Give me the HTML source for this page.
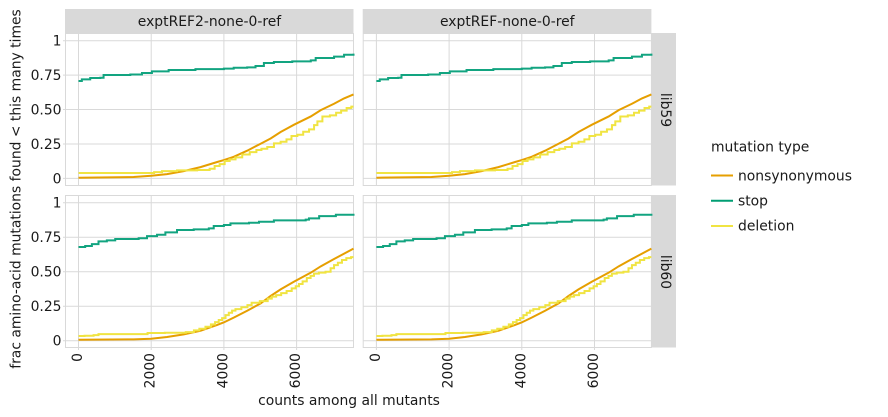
<!DOCTYPE html>
<html>
<head>
<meta charset="utf-8">
<title>Fraction of amino-acid mutations by counts</title>
<style>
html,body{margin:0;padding:0;background:#fff;width:888px;height:417px;overflow:hidden}
svg{display:block}
text{font-family:"DejaVu Sans","Liberation Sans",sans-serif;fill:#1a1a1a}
</style>
</head>
<body>
<svg id="chart" xmlns="http://www.w3.org/2000/svg" width="888" height="417" viewBox="0 0 888 417">
<text transform="translate(20.5,189) rotate(-90)" text-anchor="middle" font-size="13.9">frac amino-acid mutations found &lt; this many times</text>
<text x="349" y="405" text-anchor="middle" font-size="13.9">counts among all mutants</text>
<g>
<text x="711" y="151.5" font-size="13.9">mutation type</text>
<line x1="711" x2="733" y1="175.5" y2="175.5" stroke="#E69F00" stroke-width="2"/>
<text x="738" y="180.5" font-size="13.9">nonsynonymous</text>
<line x1="711" x2="733" y1="200.7" y2="200.7" stroke="#009E73" stroke-width="2"/>
<text x="738" y="205.5" font-size="13.9">stop</text>
<line x1="711" x2="733" y1="226" y2="226" stroke="#F0E442" stroke-width="2"/>
<text x="738" y="230.5" font-size="13.9">deletion</text>
</g>
</svg>
<script>
var columnLabels = ["exptREF2-none-0-ref", "exptREF-none-0-ref"];
var rowLabels = ["lib59", "lib60"];
var xTicks = [0, 2000, 4000, 6000];
var yTicks = [0, 0.25, 0.5, 0.75, 1];
var yTickLabels = ["0", "0.25", "0.50", "0.75", "1"];

var lib59StopX = [0,92,322,600,690,1425,1746,2020,2480,3217,4000,4270,4640,4870,5100,5375,5880,6390,6525,7030,7305,7565];
var lib59StopY = [.707,.719,.729,.731,.751,.755,.765,.777,.787,.794,.797,.804,.806,.816,.838,.845,.850,.857,.874,.884,.898,.906];
var lib59NonsynX = [0,1516,2000,2435,2895,3355,3815,4000,4270,4640,5010,5285,5560,5930,6390,6665,7030,7305,7565];
var lib59NonsynY = [.005,.01,.019,.031,.053,.082,.119,.133,.157,.201,.252,.29,.337,.39,.45,.496,.542,.581,.61];
var lib59DeletionX = [0,2000,2160,2436,2987,3539,3676,3814,3952,4090,4228,4412,4596,4825,4963,5101,5285,5469,5653,5790,5928,6112,6250,6434,6526,6618,6801,7031,7142,7307,7445,7565];
var lib59DeletionY = [.039,.039,.046,.053,.058,.061,.07,.09,.104,.126,.138,.153,.174,.191,.206,.215,.228,.254,.266,.283,.308,.317,.339,.356,.387,.414,.45,.458,.477,.492,.511,.521];

var lib60StopX = [0,184,368,550,780,1010,1655,1885,2160,2390,2710,3170,3585,3720,4000,4180,4690,4965,5375,6250,6340,6620,7080,7565];
var lib60StopY = [.679,.686,.70,.72,.727,.737,.742,.758,.768,.785,.802,.807,.814,.831,.838,.85,.855,.862,.872,.877,.886,.903,.913,.92];
var lib60NonsynX = [0,1516,2000,2435,2895,3355,3815,4000,4270,4640,5010,5285,5560,5930,6390,6665,7030,7565];
var lib60NonsynY = [.007,.01,.014,.027,.046,.072,.114,.133,.167,.217,.27,.324,.372,.428,.493,.539,.592,.667];
var lib60DeletionX = [0,330,500,600,1850,1950,2800,3100,3250,3400,3585,3700,3815,3900,4000,4090,4180,4270,4365,4595,4700,4825,5150,5260,5375,5500,5650,5800,5930,6020,6110,6220,6340,6430,6525,6700,6890,6980,7080,7190,7305,7430,7565];
var lib60DeletionY = [.034,.036,.04,.048,.048,.056,.058,.062,.075,.087,.101,.118,.135,.15,.164,.185,.203,.218,.229,.242,.258,.275,.287,.305,.319,.33,.345,.36,.379,.395,.411,.43,.454,.47,.486,.493,.5,.525,.548,.565,.585,.598,.606];

var svg = document.getElementById('chart');
var NS = 'http://www.w3.org/2000/svg';
var xMax = 7565;
var pxPerCount = 275 / xMax;
var colFrames = [{left: 65.5, right: 353.5, zero: 78.5}, {left: 363.2, right: 651.4, zero: 376.4}];
var rowFrames = [{top: 33.5, bottom: 185.5, zero: 178.4, one: 40.7}, {top: 195.5, bottom: 347.5, zero: 340.7, one: 202.7}];
var rowSeries = [
  [{key: 'nonsynonymous', color: '#E69F00', x: lib59NonsynX, y: lib59NonsynY, mode: 'line'},
   {key: 'stop', color: '#12A480', x: lib59StopX, y: lib59StopY, mode: 'after'},
   {key: 'deletion', color: '#F0E442', x: lib59DeletionX, y: lib59DeletionY, mode: 'mid'}],
  [{key: 'nonsynonymous', color: '#E69F00', x: lib60NonsynX, y: lib60NonsynY, mode: 'line'},
   {key: 'stop', color: '#12A480', x: lib60StopX, y: lib60StopY, mode: 'after'},
   {key: 'deletion', color: '#F0E442', x: lib60DeletionX, y: lib60DeletionY, mode: 'mid'}]
];

function xScale(col, value) { return col.zero + value * pxPerCount; }
function yScale(row, value) { return row.zero - value * (row.zero - row.one); }
function make(tag, attrs, text) {
  var el = document.createElementNS(NS, tag);
  for (var k in attrs) { el.setAttribute(k, attrs[k]); }
  if (text !== undefined) { el.textContent = text; }
  return el;
}
function seriesPath(col, row, s) {
  var d = '';
  for (var i = 0; i < s.x.length; i++) {
    var px = xScale(col, s.x[i]);
    var py = yScale(row, s.y[i]);
    if (i === 0) { d += 'M' + px.toFixed(2) + ' ' + py.toFixed(2); }
    else if (s.mode === 'after') { d += 'H' + px.toFixed(2) + 'V' + py.toFixed(2); }
    else if (s.mode === 'mid') {
      var prev = xScale(col, s.x[i - 1]);
      d += 'H' + ((prev + px) / 2).toFixed(2) + 'V' + py.toFixed(2) + 'H' + px.toFixed(2);
    }
    else { d += 'L' + px.toFixed(2) + ' ' + py.toFixed(2); }
  }
  return d;
}

colFrames.forEach(function (col, c) {
  var strip = make('rect', {x: col.left - 0.5, y: 9, width: col.right - col.left + 0.5, height: 24, fill: '#d9d9d9'});
  
  
  svg.appendChild(strip);
  var stripText = make('text', {x: (col.left + col.right) / 2, y: 26, 'text-anchor': 'middle', 'font-size': 13.9}, columnLabels[c]);
  
  
  svg.appendChild(stripText);
});

rowFrames.forEach(function (row, r) {
  var strip = make('rect', {x: 651.4, y: row.top - 0.5, width: 24.6, height: row.bottom - row.top + 0.5, fill: '#d9d9d9'});
  
  
  svg.appendChild(strip);
  var cy = (row.top + row.bottom) / 2 + 0.5;
  var stripText = make('text', {transform: 'translate(661,' + cy + ') rotate(90)', 'text-anchor': 'middle', 'font-size': 13.9}, rowLabels[r]);
  
  
  svg.appendChild(stripText);

  colFrames.forEach(function (col, c) {
    var panel = make('g', {});
    
    
    svg.appendChild(panel);

    yTicks.forEach(function (t) {
      var y = yScale(row, t);
      var grid = make('line', {x1: col.left - (c === 0 ? 2.5 : 0), x2: col.right, y1: y, y2: y, stroke: '#d9d9d9', 'stroke-width': 1});
      
      
      panel.appendChild(grid);
    });
    xTicks.forEach(function (t) {
      var x = xScale(col, t);
      var grid = make('line', {x1: x, x2: x, y1: row.top, y2: row.bottom + (r === 1 ? 2.5 : 0), stroke: '#d9d9d9', 'stroke-width': 1});
      
      
      panel.appendChild(grid);
    });
    var border = make('rect', {x: col.left, y: row.top, width: col.right - col.left, height: row.bottom - row.top, fill: 'none', stroke: '#d9d9d9', 'stroke-width': 1});
    
    
    panel.appendChild(border);

    rowSeries[r].forEach(function (s) {
      var line = make('path', {d: seriesPath(col, row, s), fill: 'none', stroke: s.color, 'stroke-width': 2});
      
      
      panel.appendChild(line);
    });

    if (c === 0) {
      yTicks.forEach(function (t, i) {
        var label = make('text', {x: 61.5, y: yScale(row, t) + 5, 'text-anchor': 'end', 'font-size': 13.9}, yTickLabels[i]);
        
        
        svg.appendChild(label);
      });
    }
    if (r === 1) {
      xTicks.forEach(function (t) {
        var x = xScale(col, t) + 3.5;
        var label = make('text', {transform: 'translate(' + x + ',353) rotate(-90)', 'text-anchor': 'end', 'font-size': 13.9}, String(t));
        
        
        svg.appendChild(label);
      });
    }
  });
});
</script>
</body>
</html>
